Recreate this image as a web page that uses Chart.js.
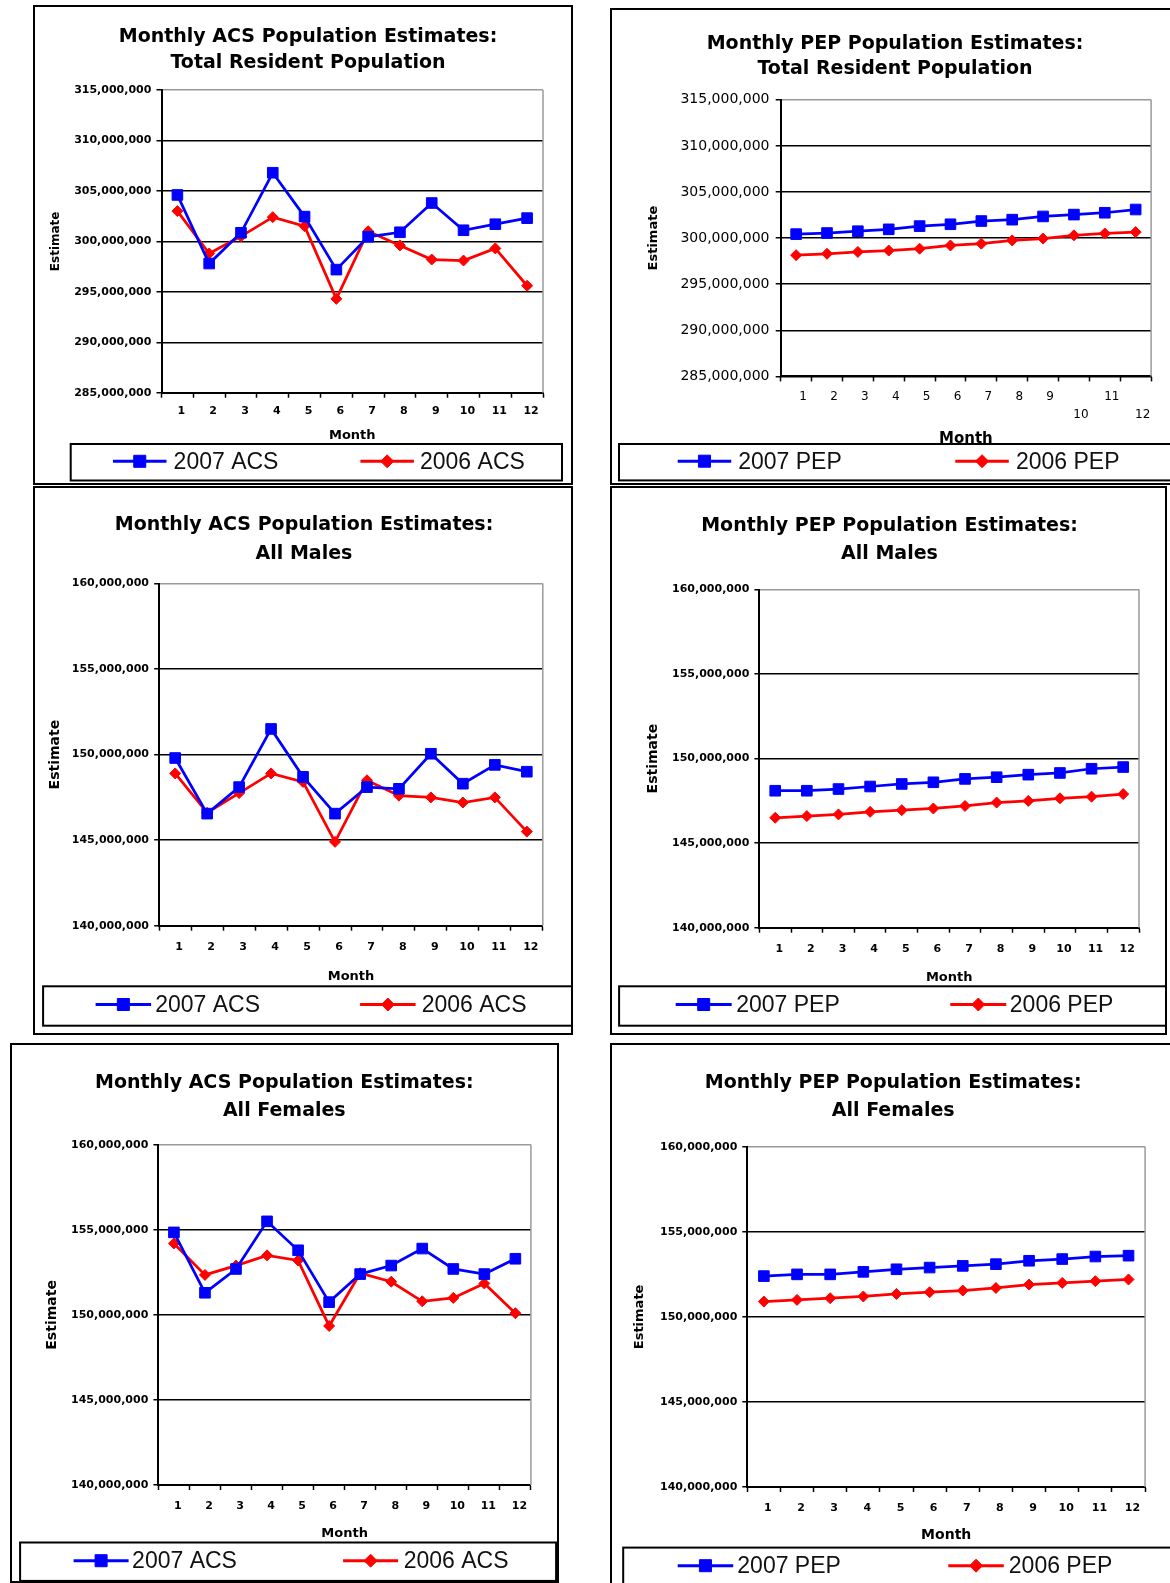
<!DOCTYPE html>
<html><head><meta charset="utf-8">
<script src="https://cdn.jsdelivr.net/npm/chart.js@4.4.1/dist/chart.umd.min.js"></script>
<style>
html,body{margin:0;padding:0;background:#fff;overflow:hidden;width:1170px;height:1583px;}
.panel{position:absolute;overflow:visible;}
.panel canvas{position:absolute;left:0;top:0;}
.frame{position:absolute;left:0;top:0;right:0;bottom:0;border:2px solid #000;box-sizing:border-box;pointer-events:none;}
</style></head><body>
<div id="p1" class="panel"><canvas id="c1"></canvas><div class="frame"></div></div>
<div id="p2" class="panel"><canvas id="c2"></canvas><div class="frame"></div></div>
<div id="p3" class="panel"><canvas id="c3"></canvas><div class="frame"></div></div>
<div id="p4" class="panel"><canvas id="c4"></canvas><div class="frame"></div></div>
<div id="p5" class="panel"><canvas id="c5"></canvas><div class="frame"></div></div>
<div id="p6" class="panel"><canvas id="c6"></canvas><div class="frame"></div></div>
<script>
// ---------- DATA ----------
const months = ['1','2','3','4','5','6','7','8','9','10','11','12'];
const monthsStaggered = ['1','2','3','4','5','6','7','8','9',['','10'],'11',['','12']];

const acsTotal2007 = [304600000, 297800000, 300850000, 306800000, 302450000, 297200000, 300450000, 300900000, 303800000, 301100000, 301700000, 302300000];
const acsTotal2006 = [303000000, 298800000, 300500000, 302400000, 301500000, 294300000, 301000000, 299600000, 298200000, 298100000, 299300000, 295600000];

const pepTotal2007 = [300430000, 300550000, 300750000, 300950000, 301300000, 301500000, 301850000, 302000000, 302350000, 302550000, 302750000, 303100000];
const pepTotal2006 = [298150000, 298300000, 298500000, 298650000, 298850000, 299200000, 299400000, 299750000, 299950000, 300300000, 300500000, 300650000];

const acsMale2007 = [149800000, 146550000, 148100000, 151500000, 148700000, 146550000, 148100000, 148000000, 150050000, 148300000, 149400000, 149000000];
const acsMale2006 = [148900000, 146600000, 147750000, 148900000, 148400000, 144900000, 148500000, 147600000, 147500000, 147200000, 147500000, 145500000];

const pepMale2007 = [148100000, 148100000, 148200000, 148350000, 148500000, 148600000, 148800000, 148900000, 149050000, 149150000, 149400000, 149500000];
const pepMale2006 = [146500000, 146600000, 146700000, 146850000, 146950000, 147050000, 147200000, 147400000, 147500000, 147650000, 147750000, 147900000];

const acsFemale2007 = [154850000, 151300000, 152700000, 155500000, 153800000, 150750000, 152400000, 152900000, 153900000, 152700000, 152400000, 153300000];
const acsFemale2006 = [154200000, 152350000, 152900000, 153500000, 153200000, 149350000, 152450000, 151950000, 150800000, 151000000, 151850000, 150100000];

const pepFemale2007 = [152400000, 152500000, 152500000, 152650000, 152800000, 152900000, 153000000, 153100000, 153300000, 153400000, 153550000, 153600000];
const pepFemale2006 = [150900000, 151000000, 151100000, 151200000, 151350000, 151450000, 151550000, 151700000, 151900000, 152000000, 152100000, 152200000];

const acsNames = ['2007 ACS', '2006 ACS'];
const pepNames = ['2007 PEP', '2006 PEP'];
const totalRange = [285000000, 315000000];
const sexRange = [140000000, 160000000];

// ---------- LAYOUT / STYLE ----------
Chart.defaults.font.family = "'DejaVu Sans', sans-serif";
Chart.defaults.color = '#000';

const specs = [
  {n:1, panel:[33,5,540,480], title:['Monthly ACS Population Estimates:','Total Resident Population'],
   labels:months, names:acsNames, data:[acsTotal2007, acsTotal2006], range:totalRange,
   plot:[128.5,85,510,387.7], titleX:275, titleY:32.3, titleLH:25.3, labelOffset:4,
   yLabelRight:118.4, ySize:11, yWeight:'bold', xSize:11, xWeight:'bold', xLabelY:405.9, xLH:13.2,
   monthY:431, monthSize:13, estX:22.5, estSize:12,
   legend:{box:[37.7,439,529,475.5], lineX:[80,327.4], lineLen:53.5, textX:[140.6,387], y:456.3}},
  {n:2, panel:[610,8,567,477], title:['Monthly PEP Population Estimates:','Total Resident Population'],
   labels:monthsStaggered, names:pepNames, data:[pepTotal2007, pepTotal2006], range:totalRange,
   plot:[170.7,91.8,541.1,368.4], titleX:285, titleY:36.3, titleLH:25.2, labelOffset:7,
   yLabelRight:159.5, ySize:14, yWeight:'normal', xSize:12, xWeight:'normal', xLabelY:388.6, xLH:18.2,
   monthY:431.5, monthSize:15, estX:43.5, estSize:13,
   legend:{box:[9,436,600,472.4], lineX:[67.7,345.3], lineLen:53.5, textX:[128.2,405.9], y:453.2}},
  {n:3, panel:[33,486,540,549], title:['Monthly ACS Population Estimates:','All Males'],
   labels:months, names:acsNames, data:[acsMale2007, acsMale2006], range:sexRange,
   plot:[126.2,97.5,509.8,439.7], titleX:271, titleY:38.9, titleLH:29.3, labelOffset:4,
   yLabelRight:116, ySize:11, yWeight:'bold', xSize:11, xWeight:'bold', xLabelY:460.9, xLH:13.2,
   monthY:490.2, monthSize:13, estX:22.2, estSize:14,
   legend:{box:[10.1,500.3,540,539.7], lineX:[62.6,327.1], lineLen:55.5, textX:[122.2,388.7], y:518.5}},
  {n:4, panel:[610,486,557,549], title:['Monthly PEP Population Estimates:','All Males'],
   labels:months, names:pepNames, data:[pepMale2007, pepMale2006], range:sexRange,
   plot:[149.4,103.5,529,441.7], titleX:279.5, titleY:39.9, titleLH:28.3, labelOffset:4,
   yLabelRight:139.3, ySize:11, yWeight:'bold', xSize:11, xWeight:'bold', xLabelY:462.9, xLH:13.2,
   monthY:491.2, monthSize:13, estX:43.4, estSize:14,
   legend:{box:[9.1,500.3,556.3,539.7], lineX:[65.7,340.3], lineLen:56, textX:[126.2,399.8], y:518.5}},
  {n:5, panel:[10,1043,549,539.5], title:['Monthly ACS Population Estimates:','All Females'],
   labels:months, names:acsNames, data:[acsFemale2007, acsFemale2006], range:sexRange,
   plot:[148.4,101.8,520.9,442], titleX:274.3, titleY:40.2, titleLH:28.2, labelOffset:4,
   yLabelRight:138.3, ySize:11, yWeight:'bold', xSize:11, xWeight:'bold', xLabelY:463.2, xLH:13.2,
   monthY:490.4, monthSize:13, estX:42.4, estSize:14,
   legend:{box:[10.1,499.5,546.1,537.9], lineX:[63.6,333.1], lineLen:55, textX:[122.1,393.7], y:517.7}},
  {n:6, panel:[610,1043,563,545], title:['Monthly PEP Population Estimates:','All Females'],
   labels:months, names:pepNames, data:[pepFemale2007, pepFemale2006], range:sexRange,
   plot:[137.3,103.8,535.1,444], titleX:283.2, titleY:40.2, titleLH:28.2, labelOffset:4,
   yLabelRight:127.3, ySize:11, yWeight:'bold', xSize:11, xWeight:'bold', xLabelY:465.2, xLH:13.2,
   monthY:492.4, monthSize:14, estX:29.3, estSize:13,
   legend:{box:[13.2,504.6,600,560], lineX:[67.7,338.3], lineLen:55.5, textX:[127.3,398.8], y:522.7}}
];

const plotBorder = {
  id:'plotBorder',
  beforeDatasetsDraw(chart){
    const {ctx, chartArea:a} = chart;
    ctx.save();
    ctx.strokeStyle = '#9a9a9a';
    ctx.lineWidth = 1.5;
    ctx.beginPath();
    ctx.moveTo(a.right, a.top);
    ctx.lineTo(a.right, a.bottom);
    ctx.stroke();
    ctx.restore();
  }
};

function drawMarker(ctx, style, r, x, y){
  if (Chart.helpers && Chart.helpers.drawPoint) {
    Chart.helpers.drawPoint(ctx, {pointStyle:style, radius:r, rotation:0, borderWidth:1}, x, y);
    return;
  }
  ctx.beginPath();
  if (style === 'rect') { const s = r*Math.SQRT1_2; ctx.rect(x-s, y-s, 2*s, 2*s); }
  else { ctx.moveTo(x, y-r); ctx.lineTo(x+r, y); ctx.lineTo(x, y+r); ctx.lineTo(x-r, y); ctx.closePath(); }
  ctx.fill(); ctx.stroke();
}

const boxLegend = {
  id:'boxLegend',
  afterDraw(chart, args, opts){
    const ctx = chart.ctx;
    const b = opts.box;
    ctx.save();
    ctx.strokeStyle = '#000';
    ctx.lineWidth = 2;
    ctx.strokeRect(b[0], b[1], b[2]-b[0], b[3]-b[1]);
    chart.data.datasets.forEach((ds, i) => {
      const x0 = opts.lineX[i], y = opts.y;
      ctx.strokeStyle = ds.borderColor;
      ctx.lineWidth = 3;
      ctx.beginPath();
      ctx.moveTo(x0, y);
      ctx.lineTo(x0 + opts.lineLen, y);
      ctx.stroke();
      ctx.fillStyle = ds.pointBackgroundColor;
      ctx.strokeStyle = ds.pointBorderColor;
      ctx.lineWidth = 1;
      drawMarker(ctx, ds.pointStyle, ds.pointStyle === 'rect' ? 8.5 : 6.5, x0 + opts.lineLen/2, y);
      ctx.fillStyle = '#111';
      ctx.font = "23px 'Liberation Sans', Arial, sans-serif";
      ctx.textBaseline = 'middle';
      ctx.textAlign = 'left';
      ctx.fillText(ds.label, opts.textX[i], y + 1);
    });
    ctx.restore();
  }
};

function build(s){
  const panel = document.getElementById('p' + s.n);
  const [L, T, W, H] = s.panel;
  panel.style.left = L + 'px'; panel.style.top = T + 'px';
  panel.style.width = W + 'px'; panel.style.height = H + 'px';
  const cv = document.getElementById('c' + s.n);
  cv.width = Math.ceil(W); cv.height = Math.ceil(H);
  cv.style.width = Math.ceil(W) + 'px'; cv.style.height = Math.ceil(H) + 'px';

  const [pL, pT, pR, pB] = s.plot;
  const tLH = s.titleLH;
  const titlePadTop = s.titleY - tLH/2;
  const titlePadBottom = pT - titlePadTop - 2*tLH;
  const padRight = Math.ceil(W) - pR;
  const padLeft = 2*s.titleX - Math.ceil(W) + padRight;
  const yW = pL - padLeft;
  const estLH = s.estSize * 1.2;
  const estPad = s.estX - padLeft - estLH/2;
  const yTickPad = pL - s.yLabelRight - 5;
  const xTickPad = s.xLabelY - pB - 5 - s.xLH/2;
  const mLH = s.monthSize * 1.2;
  const xBottom = s.monthY + mLH/2;
  const padBottom = Math.ceil(H) - xBottom;
  const xH = xBottom - pB;
  const [ymin, ymax] = s.range;

  new Chart(cv, {
    type:'line',
    data:{
      labels:s.labels,
      datasets:[
        {label:s.names[0], data:s.data[0], borderColor:'#0000ff', backgroundColor:'#0000ff',
         pointBackgroundColor:'#0000ff', pointBorderColor:'#0000ff', pointStyle:'rect',
         pointRadius:7.5, pointBorderWidth:1, borderWidth:2.75, tension:0},
        {label:s.names[1], data:s.data[1], borderColor:'#ff0000', backgroundColor:'#ff0000',
         pointBackgroundColor:'#ff0000', pointBorderColor:'#ff0000', pointStyle:'rectRot',
         pointRadius:5.5, pointBorderWidth:1, borderWidth:2.75, tension:0}
      ]
    },
    options:{
      responsive:false, animation:false, devicePixelRatio:1, events:[],
      layout:{padding:{left:padLeft, right:padRight, top:0, bottom:padBottom}},
      plugins:{
        legend:{display:false},
        tooltip:{enabled:false},
        title:{display:true, text:s.title, color:'#000',
               font:{size:19, weight:'bold', lineHeight:tLH/19},
               padding:{top:titlePadTop, bottom:titlePadBottom}},
        boxLegend:s.legend
      },
      scales:{
        x:{
          offset:true,
          grid:{display:true, drawOnChartArea:false, drawTicks:true, tickLength:5, tickColor:'#000', tickWidth:1.5, offset:true},
          border:{display:true, color:'#000', width:2},
          ticks:{autoSkip:false, maxRotation:0, minRotation:0, padding:xTickPad, color:'#000', labelOffset:s.labelOffset,
                 font:{size:s.xSize, weight:s.xWeight, lineHeight:s.xLH/s.xSize}},
          title:{display:true, text:'Month', color:'#000', font:{size:s.monthSize, weight:'bold', lineHeight:1.2}, padding:0},
          afterFit:(sc) => { sc.height = xH; }
        },
        y:{
          min:ymin, max:ymax,
          grid:{display:true, drawOnChartArea:true, drawTicks:true, tickLength:5, tickWidth:1.5, tickColor:'#000',
                lineWidth:1.5,
                color:(c) => (c.tick && c.tick.value === ymax) ? '#9a9a9a' : '#000'},
          border:{display:true, color:'#000', width:2},
          ticks:{stepSize:5000000, padding:yTickPad, color:'#000',
                 font:{size:s.ySize, weight:s.yWeight},
                 callback:(v) => Number(v).toLocaleString('en-US')},
          title:{display:true, text:'Estimate', color:'#000', font:{size:s.estSize, weight:'bold', lineHeight:1.2},
                 padding:{top:estPad, bottom:0}},
          afterFit:(sc) => { sc.width = yW; }
        }
      }
    },
    plugins:[plotBorder, boxLegend]
  });
}

specs.forEach(build);
</script>
</body></html>
